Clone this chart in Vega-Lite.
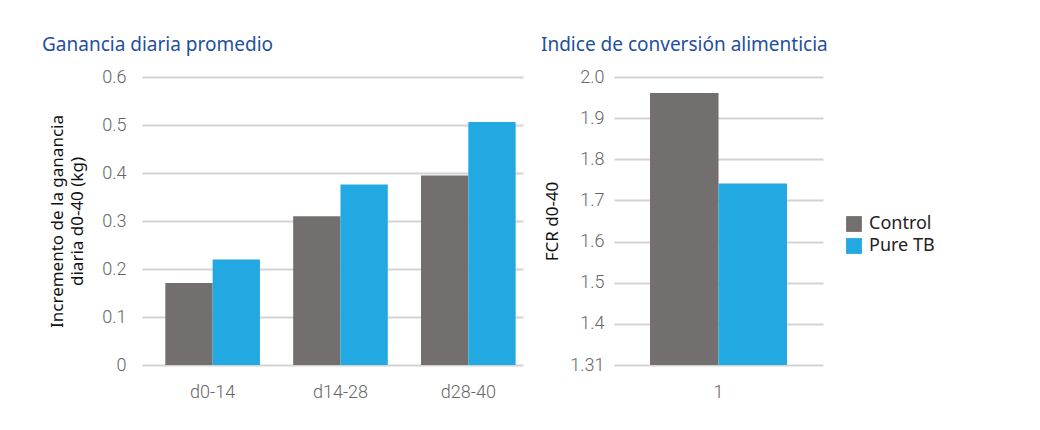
{
  "$schema": "https://vega.github.io/schema/vega-lite/v6.json",
  "background": "white",
  "padding": {"top": 36, "left": 42, "right": 10, "bottom": 10},
  "config": {
    "view": {"stroke": null},
    "font": "Noto Sans",
    "axis": {
      "domain": false,
      "ticks": false,
      "gridColor": "#d3d3d3",
      "gridWidth": 2,
      "labelFont": "Roboto",
      "labelFontSize": 18,
      "labelFontWeight": 300,
      "labelColor": "#666666",
      "titleFont": "Noto Sans",
      "titleFontSize": 17,
      "titleFontWeight": "normal",
      "titleColor": "#111111"
    },
    "title": {
      "font": "Noto Sans",
      "fontSize": 19,
      "fontWeight": "normal",
      "color": "#1f4f9c",
      "anchor": "start",
      "frame": "group"
    },
    "legend": {
      "labelFont": "Noto Sans",
      "labelFontSize": 18,
      "labelColor": "#222222",
      "symbolType": "square",
      "symbolSize": 250,
      "symbolStrokeWidth": 0,
      "rowPadding": 4,
      "labelOffset": 6,
      "padding": 0
    }
  },
  "datasets": {
    "gdp": [
      {"periodo": "d0-14", "grupo": "Control", "valor": 0.171},
      {"periodo": "d0-14", "grupo": "Pure TB", "valor": 0.22},
      {"periodo": "d14-28", "grupo": "Control", "valor": 0.31},
      {"periodo": "d14-28", "grupo": "Pure TB", "valor": 0.376},
      {"periodo": "d28-40", "grupo": "Control", "valor": 0.395},
      {"periodo": "d28-40", "grupo": "Pure TB", "valor": 0.506}
    ],
    "fcr": [
      {"punto": "1", "grupo": "Control", "valor": 1.961},
      {"punto": "1", "grupo": "Pure TB", "valor": 1.741}
    ]
  },
  "resolve": {"scale": {"color": "shared", "xOffset": "independent"}},
  "spacing": 18,
  "hconcat": [
    {
      "title": {"text": "Ganancia diaria promedio", "dx": -100, "offset": 13},
      "width": 381,
      "height": 288,
      "data": {"name": "gdp"},
      "mark": {"type": "bar"},
      "encoding": {
        "x": {
          "field": "periodo",
          "type": "nominal",
          "sort": ["d0-14", "d14-28", "d28-40"],
          "scale": {"paddingInner": 0.26, "paddingOuter": 0.12, "align": 0.76},
          "axis": {"title": null, "labelAngle": 0, "labelPadding": 18}
        },
        "xOffset": {"field": "grupo", "type": "nominal", "sort": ["Control", "Pure TB"], "scale": {"padding": 0}},
        "y": {
          "field": "valor",
          "type": "quantitative",
          "scale": {"domain": [0, 0.6]},
          "axis": {
            "values": [0, 0.1, 0.2, 0.3, 0.4, 0.5, 0.6],
            "labelExpr": "datum.value == 0 ? '0' : format(datum.value, '.1f')",
            "labelPadding": 16,
            "title": ["Incremento de la ganancia", "diaria d0-40 (kg)"],
            "titlePadding": 15,
            "titleLineHeight": 20
          }
        },
        "color": {
          "field": "grupo",
          "type": "nominal",
          "sort": ["Control", "Pure TB"],
          "scale": {"domain": ["Control", "Pure TB"], "range": ["#736f6f", "#22a9e1"]},
          "legend": {"title": null, "orient": "none", "legendX": 703, "legendY": 138}
        }
      }
    },
    {
      "title": {"text": "Indice de conversión alimenticia", "dx": -73, "offset": 13},
      "width": 209,
      "height": 288,
      "data": {"name": "fcr"},
      "mark": {"type": "bar"},
      "encoding": {
        "x": {
          "field": "punto",
          "type": "nominal",
          "scale": {"paddingInner": 0, "paddingOuter": 0.263},
          "axis": {"title": null, "labelAngle": 0, "labelPadding": 18}
        },
        "xOffset": {"field": "grupo", "type": "nominal", "sort": ["Control", "Pure TB"], "scale": {"padding": 0}},
        "y": {
          "field": "valor",
          "type": "quantitative",
          "scale": {"domain": [1.3, 2.0], "zero": false, "nice": false},
          "axis": {
            "values": [1.3, 1.4, 1.5, 1.6, 1.7, 1.8, 1.9, 2.0],
            "labelExpr": "datum.value < 1.35 ? '1.31' : format(datum.value, '.1f')",
            "labelPadding": 10,
            "title": "FCR d0-40",
            "titlePadding": 8
          }
        },
        "y2": {"datum": 1.3},
        "color": {
          "field": "grupo",
          "type": "nominal",
          "sort": ["Control", "Pure TB"],
          "scale": {"domain": ["Control", "Pure TB"], "range": ["#736f6f", "#22a9e1"]},
          "legend": {"title": null, "orient": "none", "legendX": 703, "legendY": 138}
        }
      }
    }
  ]
}
